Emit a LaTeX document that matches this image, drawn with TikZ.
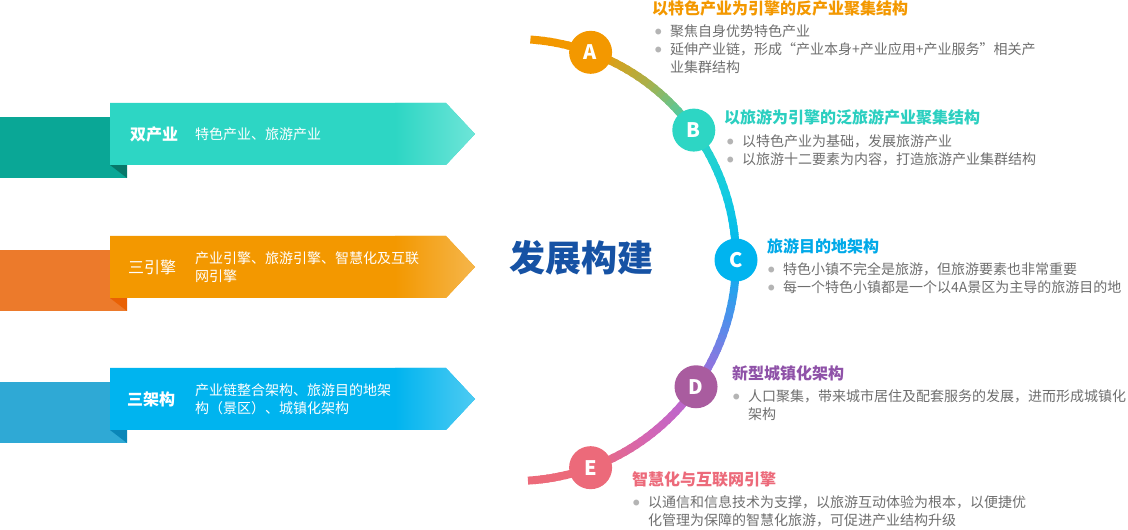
\documentclass[tikz,border=0pt]{standalone}
\usepackage{fontspec}
\setmainfont{Noto Sans CJK SC}
\usepackage{tikz}

\definecolor{cA}{HTML}{F39800}
\definecolor{cB}{HTML}{2DD6C4}
\definecolor{cC}{HTML}{00B4EF}
\definecolor{cD}{HTML}{A95C9F}
\definecolor{cE}{HTML}{EC6A7A}
\definecolor{arcI}{HTML}{F39800}
\definecolor{arcII}{HTML}{A9B04A}
\definecolor{arcIII}{HTML}{2DD6C4}
\definecolor{arcIV}{HTML}{14CCE0}
\definecolor{arcV}{HTML}{00B4EF}
\definecolor{arcVI}{HTML}{5A8AEA}
\definecolor{arcVII}{HTML}{B466D6}
\definecolor{arcVIII}{HTML}{D466B4}
\definecolor{arcIX}{HTML}{EC6A7A}
\definecolor{headB}{HTML}{2BCFC0}
\definecolor{headC}{HTML}{00A9E8}
\definecolor{headD}{HTML}{8F52A8}
\definecolor{titleblue}{HTML}{1652A4}
\definecolor{textgray}{HTML}{6E6E6E}
\definecolor{dotgray}{HTML}{B4B4B4}
\definecolor{tealF}{HTML}{2DD6C4}
\definecolor{tealL}{HTML}{6FE5D8}
\definecolor{tealB}{HTML}{0AA796}
\definecolor{tealD}{HTML}{07786A}
\definecolor{orgF}{HTML}{F39800}
\definecolor{orgL}{HTML}{F5B64C}
\definecolor{orgB}{HTML}{EC7A2B}
\definecolor{orgD}{HTML}{E96104}
\definecolor{bluF}{HTML}{00B4EF}
\definecolor{bluL}{HTML}{4FCBF2}
\definecolor{bluB}{HTML}{2FA9D5}
\definecolor{bluD}{HTML}{0A86B8}

\newcommand\bdot{\raisebox{2.2pt}{\textcolor{dotgray}{\fontsize{6.5}{6.5}\selectfont ●}}}

\begin{document}
\begin{tikzpicture}[x = 1pt, y = 1pt,
    arcline/.style = {line width = 8pt},
    letter/.style = {circle, minimum size = 43pt, inner sep = 0pt, text = white,
      font = \fontsize{20}{20}\selectfont\bfseries},
    head/.style = {anchor = west, inner sep = 0pt, font = \fontsize{16}{18}\selectfont\bfseries},
    body/.style = {anchor = north west, inner sep = 0pt, text = textgray,
      font = \fontsize{14}{18}\selectfont},
    bantitle/.style = {anchor = west, inner sep = 0pt, text = white,
      font = \fontsize{16}{18}\selectfont\bfseries},
    bantext/.style = {anchor = west, inner sep = 0pt, text = white, align = left,
      font = \fontsize{14}{18}\selectfont}]
      \useasboundingbox (0, 0) rectangle (1128, 530);

      % banners on the left
      \foreach \t/\cf/\cl/\cb/\cd in {427/tealF/tealL/tealB/tealD, 294/orgF/orgL/orgB/orgD, 162/bluF/bluL/bluB/bluD}{
        \fill[\cb] (0, \t-14) rectangle (127, \t-75);
        \fill[\cd] (110, \t-62) -- (127, \t-62) -- (127, \t-75) -- cycle;
        \fill[\cf] (110, \t) -- (446, \t) -- (475, \t-31) -- (446, \t-62) -- (110, \t-62) -- cycle;
        \begin{scope}
          \clip (110, \t) -- (446, \t) -- (475, \t-31) -- (446, \t-62) -- (110, \t-62) -- cycle;
          \shade[left color = \cf, right color = \cl] (395, \t) rectangle (476, \t-62);
        \end{scope}
      }
      \node[bantitle] (dual) at (130, 396) {双产业};
      \node[bantext] (dualtxt) at (195, 396) {特色产业、旅游产业};
      \node[bantitle, font = \fontsize{16}{18}\selectfont] (engine) at (128, 263) {三引擎};
      \node[bantext] (enginetxt) at (195, 263) {产业引擎、旅游引擎、智慧化及互联\\网引擎};
      \node[bantitle] (frame) at (127, 131) {三架构};
      \node[bantext] (frametxt) at (195, 131) {产业链整合架构、旅游目的地架\\构（景区）、城镇化架构};

      \node[anchor = west, inner sep = 0pt, text = titleblue,
        font = \fontsize{36}{40}\selectfont\bfseries] (title) at (509, 272) {发展构建};

      % gradient arc
      \coordinate (ctr) at (515, 270);
      \foreach \a/\b/\ci/\cj in {86/70/arcI/arcI, 70/53/arcI/arcII, 53/36/arcII/arcIII, 36/18/arcIII/arcIV,
          18/0/arcIV/arcV, 0/-18/arcV/arcVI, -18/-36/arcVI/arcVII, -36/-53/arcVII/arcVIII,
          -53/-70/arcVIII/arcIX, -70/-86/arcIX/arcIX}{
        \foreach \i in {0,...,9}{
          \pgfmathtruncatemacro\p{\i*10+5}
          \pgfmathsetmacro\s{\a+(\b-\a)*\i/10}
          \pgfmathsetmacro\e{\a+(\b-\a)*(\i+1.4)/10}
          \draw[arcline, draw = \cj!\p!\ci] ([shift = {(\s:221)}]ctr) arc[start angle = \s, end angle = \e, radius = 221];
        }
      }

      \node[letter, fill = cA] (nA) at ([shift = {(70:221)}]ctr) {A};
      \node[letter, fill = cB] (nB) at ([shift = {(36:221)}]ctr) {B};
      \node[letter, fill = cC] (nC) at ([shift = {(0:221)}]ctr) {C};
      \node[letter, fill = cD] (nD) at ([shift = {(-35:221)}]ctr) {D};
      \node[letter, fill = cE] (nE) at ([shift = {(-70:221)}]ctr) {E};

      % texts on the right
      \node[head, text = cA] (hA) at (652, 522) {以特色产业为引擎的反产业聚集结构};
      \node[body] (tA) at (655, 506) {\begin{tabular}{@{}p{15pt}@{}l@{}}
        \bdot & 聚焦自身优势特色产业\\
        \bdot & 延伸产业链，形成“产业本身+产业应用+产业服务”相关产\\
              & 业集群结构
      \end{tabular}};
      \node[head, text = headB] (hB) at (724, 413) {以旅游为引擎的泛旅游产业聚集结构};
      \node[body] (tB) at (727, 396) {\begin{tabular}{@{}p{15pt}@{}l@{}}
        \bdot & 以特色产业为基础，发展旅游产业\\
        \bdot & 以旅游十二要素为内容，打造旅游产业集群结构
      \end{tabular}};
      \node[head, text = headC] (hC) at (767, 284) {旅游目的地架构};
      \node[body] (tC) at (768, 268) {\begin{tabular}{@{}p{15pt}@{}l@{}}
        \bdot & 特色小镇不完全是旅游，但旅游要素也非常重要\\
        \bdot & 每一个特色小镇都是一个以4A景区为主导的旅游目的地
      \end{tabular}};
      \node[head, text = headD] (hD) at (732, 157) {新型城镇化架构};
      \node[body] (tD) at (733, 141) {\begin{tabular}{@{}p{15pt}@{}l@{}}
        \bdot & 人口聚集，带来城市居住及配套服务的发展，进而形成城镇化\\
              & 架构
      \end{tabular}};
      \node[head, text = cE] (hE) at (632, 51) {智慧化与互联网引擎};
      \node[body] (tE) at (633, 35) {\begin{tabular}{@{}p{15pt}@{}l@{}}
        \bdot & 以通信和信息技术为支撑，以旅游互动体验为根本，以便捷优\\
              & 化管理为保障的智慧化旅游，可促进产业结构升级
      \end{tabular}};
    \end{tikzpicture}
\end{document}
